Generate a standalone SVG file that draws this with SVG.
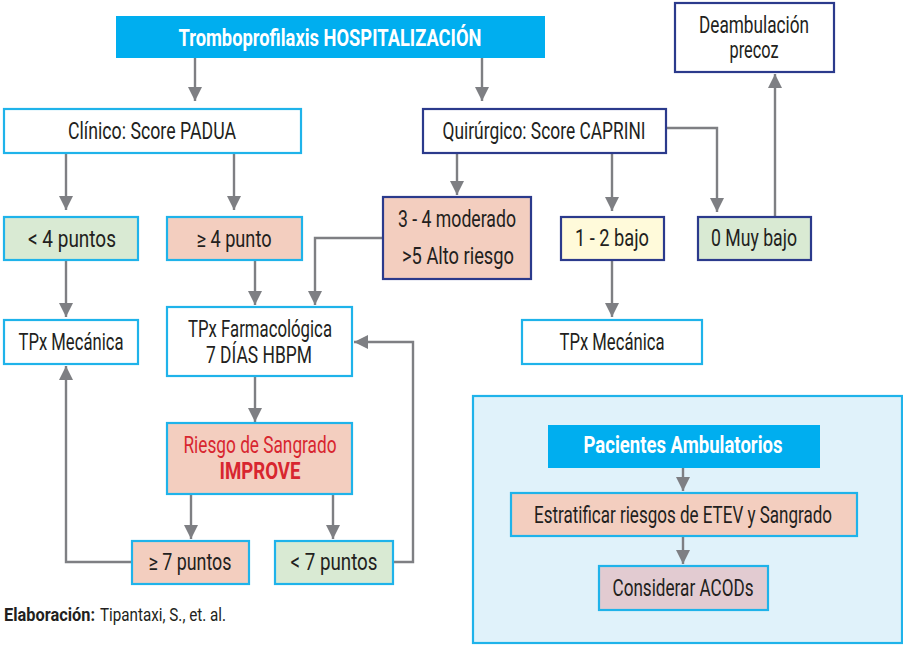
<svg xmlns="http://www.w3.org/2000/svg" width="903" height="645" viewBox="0 0 903 645">
  <style>
    .lb { stroke: #1FB3EA; stroke-width: 2.2; }
    .db { stroke: #2B3A8C; stroke-width: 2.2; }
    .hdr { fill: #00AEEF; }
    .w { fill: #FFFFFF; }
    .pe { fill: #F3CEBF; }
    .gr { fill: #D9EAD3; }
    .ye { fill: #FFFADA; }
    .mv { fill: #E2CBD1; }
    .panel { fill: #E0F2FA; stroke: #1FB3EA; stroke-width: 2.2; }
    text { font-family: Roboto, "Liberation Sans", sans-serif; font-size: 23px; fill: #231F20; text-anchor: middle; }
    .t-hdr { fill: #FFFFFF; font-weight: bold; }
    .t-red { fill: #D8262F; }
    .t-foot { font-size: 18px; text-anchor: start; }
    .conn { fill: none; stroke: #7E7F83; stroke-width: 2.4; }
  </style>
  <defs>
    <marker id="arrow" markerUnits="userSpaceOnUse" markerWidth="14" markerHeight="14" viewBox="0 0 14 14" refX="14" refY="7" orient="auto">
      <path d="M0,0 L14,7 L0,14 Z" fill="#7E7F83"/>
    </marker>
  </defs>

  <!-- outpatient panel background -->
  <g id="n-panel">
    <rect class="panel" x="473" y="396" width="429" height="247"/>
  </g>

  <!-- connectors -->
  <g id="connectors" class="conn" marker-end="url(#arrow)">
    <path d="M195,58 V101"/>
    <path d="M482,58 V101"/>
    <path d="M66,153 V210"/>
    <path d="M234,153 V210"/>
    <path d="M457,153 V195"/>
    <path d="M612,153 V211"/>
    <path d="M666,128 H717 V212"/>
    <path d="M775,217 V74"/>
    <path d="M66,260 V317"/>
    <path d="M255,260 V305"/>
    <path d="M383,238 H315 V305"/>
    <path d="M612,260 V317"/>
    <path d="M255,376 V422"/>
    <path d="M191,494 V539"/>
    <path d="M333,494 V539"/>
    <path d="M132,562 H66 V366"/>
    <path d="M393,562 H413 V342 H354"/>
    <path d="M683,468 V491"/>
    <path d="M683,536 V564"/>
  </g>

  <!-- hospitalization flow -->
  <g id="n-title">
    <rect class="hdr" x="116" y="16" width="429" height="42"/>
    <text class="t-hdr" x="330" y="46" textLength="303" lengthAdjust="spacingAndGlyphs">Tromboprofilaxis HOSPITALIZACIÓN</text>
  </g>
  <g id="n-clinico">
    <rect class="w lb" x="4" y="109" width="297" height="44"/>
    <text x="152" y="139" textLength="168" lengthAdjust="spacingAndGlyphs">Clínico: Score PADUA</text>
  </g>
  <g id="n-quirurgico">
    <rect class="w db" x="423" y="109" width="243" height="44"/>
    <text x="544" y="139" textLength="203" lengthAdjust="spacingAndGlyphs">Quirúrgico: Score CAPRINI</text>
  </g>
  <g id="n-deambulacion">
    <rect class="w db" x="675" y="3" width="159" height="69"/>
    <text x="754" y="33" textLength="110" lengthAdjust="spacingAndGlyphs">Deambulación</text>
    <text x="754" y="58" textLength="49" lengthAdjust="spacingAndGlyphs">precoz</text>
  </g>
  <g id="n-menos4">
    <rect class="gr lb" x="4" y="217" width="134" height="43"/>
    <text x="72" y="247" textLength="88" lengthAdjust="spacingAndGlyphs">&lt; 4 puntos</text>
  </g>
  <g id="n-mayor4">
    <rect class="pe lb" x="167" y="217" width="135" height="43"/>
    <text x="234" y="247" textLength="75" lengthAdjust="spacingAndGlyphs">≥ 4 punto</text>
  </g>
  <g id="n-moderado">
    <rect class="pe db" x="383" y="197" width="148" height="82"/>
    <text x="457" y="227" textLength="118" lengthAdjust="spacingAndGlyphs">3 - 4 moderado</text>
    <text x="458" y="264" textLength="112" lengthAdjust="spacingAndGlyphs">&gt;5 Alto riesgo</text>
  </g>
  <g id="n-bajo">
    <rect class="ye db" x="561" y="217" width="103" height="43"/>
    <text x="612" y="246" textLength="74" lengthAdjust="spacingAndGlyphs">1 - 2 bajo</text>
  </g>
  <g id="n-muybajo">
    <rect class="gr db" x="698" y="217" width="113" height="43"/>
    <text x="754" y="246" textLength="86" lengthAdjust="spacingAndGlyphs">0 Muy bajo</text>
  </g>
  <g id="n-mecanica-l">
    <rect class="w lb" x="4" y="320" width="134" height="44"/>
    <text x="71" y="350" textLength="105" lengthAdjust="spacingAndGlyphs">TPx Mecánica</text>
  </g>
  <g id="n-farmacologica">
    <rect class="w lb" x="167" y="307" width="185" height="69"/>
    <text x="260" y="337" textLength="144" lengthAdjust="spacingAndGlyphs">TPx Farmacológica</text>
    <text x="259" y="363" textLength="106" lengthAdjust="spacingAndGlyphs">7 DÍAS HBPM</text>
  </g>
  <g id="n-mecanica-r">
    <rect class="w lb" x="522" y="320" width="180" height="44"/>
    <text x="612" y="350" textLength="105" lengthAdjust="spacingAndGlyphs">TPx Mecánica</text>
  </g>
  <g id="n-sangrado">
    <rect class="pe lb" x="167" y="423" width="185" height="71"/>
    <text class="t-red" x="260" y="453" textLength="153" lengthAdjust="spacingAndGlyphs">Riesgo de Sangrado</text>
    <text class="t-red" x="260" y="479" font-weight="bold" textLength="81" lengthAdjust="spacingAndGlyphs">IMPROVE</text>
  </g>
  <g id="n-mayor7">
    <rect class="pe lb" x="132" y="541" width="117" height="43"/>
    <text x="190" y="570" textLength="83" lengthAdjust="spacingAndGlyphs">≥ 7 puntos</text>
  </g>
  <g id="n-menos7">
    <rect class="gr lb" x="275" y="541" width="118" height="43"/>
    <text x="334" y="570" textLength="87" lengthAdjust="spacingAndGlyphs">&lt; 7 puntos</text>
  </g>

  <!-- outpatient flow -->
  <g id="n-ambulatorios">
    <rect class="hdr" x="548" y="425" width="272" height="43"/>
    <text class="t-hdr" x="683" y="453" textLength="199" lengthAdjust="spacingAndGlyphs">Pacientes Ambulatorios</text>
  </g>
  <g id="n-estratificar">
    <rect class="pe lb" x="511" y="493" width="346" height="43"/>
    <text x="683" y="523" textLength="298" lengthAdjust="spacingAndGlyphs">Estratificar riesgos de ETEV y Sangrado</text>
  </g>
  <g id="n-acods">
    <rect class="mv lb" x="599" y="566" width="169" height="44"/>
    <text x="683" y="596" textLength="141" lengthAdjust="spacingAndGlyphs">Considerar ACODs</text>
  </g>

  <!-- credit line -->
  <text class="t-foot" x="4" y="621"><tspan font-weight="bold" textLength="91" lengthAdjust="spacingAndGlyphs">Elaboración:</tspan><tspan x="100" textLength="126" lengthAdjust="spacingAndGlyphs">Tipantaxi, S., et. al.</tspan></text>
</svg>
